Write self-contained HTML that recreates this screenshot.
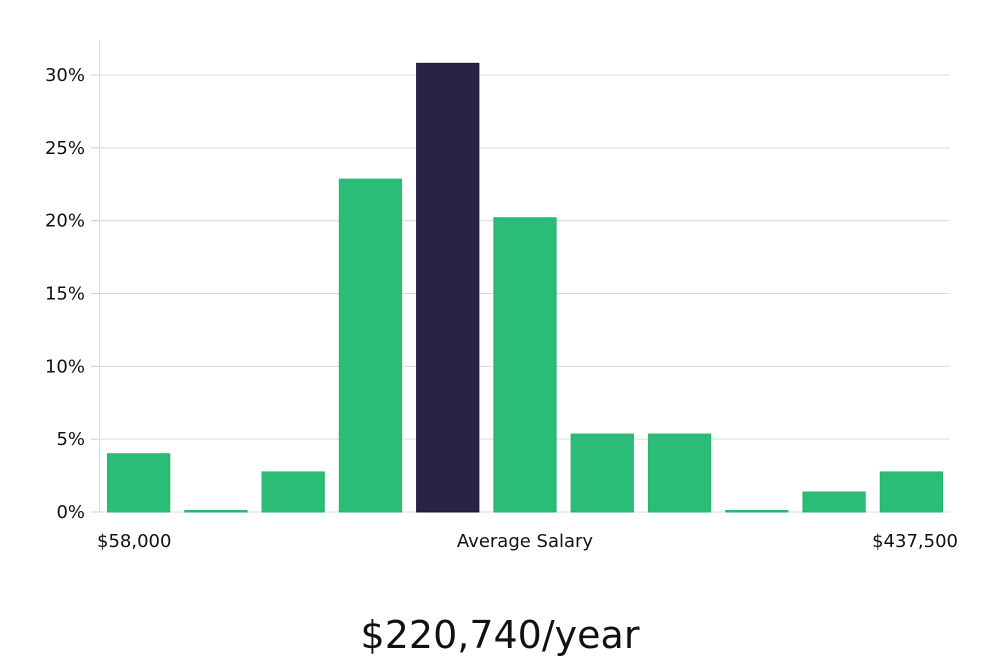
<!DOCTYPE html>
<html><head><meta charset="utf-8"><style>
html,body{margin:0;padding:0;background:#fff;width:1000px;height:660px;overflow:hidden}
text{font-family:"DejaVu Sans","Liberation Sans",sans-serif}
</style></head><body>
<svg id="chart" width="1000" height="660" xmlns="http://www.w3.org/2000/svg"></svg>
<script>
const categories=["b1","b2","b3","b4","b5","b6","b7","b8","b9","b10","b11"];
const values=[4.0,0.1,2.75,22.85,30.8,20.2,5.35,5.35,0.1,1.37,2.75];
const highlight=[false,false,false,false,true,false,false,false,false,false,false];
const yTicks=[0,5,10,15,20,25,30];
const yTickLabels=["0%","5%","10%","15%","20%","25%","30%"];
const xLabels=["$58,000","Average Salary","$437,500"];
const caption="$220,740/year";

const NS="http://www.w3.org/2000/svg";
const svg=document.getElementById('chart');
const L=100,R=950,B=512,T=40;
const y=v=>B-v*(437/30);
const band=(R-L)/categories.length;
const x=i=>L+i*band;
function mk(t,a){const e=document.createElementNS(NS,t);for(const k in a)e.setAttribute(k,a[k]);svg.appendChild(e);return e;}

yTicks.forEach((t,i)=>{
  const g=mk('line',{x1:L,x2:R,y1:y(t),y2:y(t),stroke:'#dcdcdc','stroke-width':1});
  
  
  const tk=mk('line',{x1:91,x2:L,y1:y(t),y2:y(t),stroke:'#cccccc','stroke-width':1});
  
  
  const lb=mk('text',{x:85,y:y(t)+6,'text-anchor':'end','font-size':18,fill:'#111'});
  lb.textContent=yTickLabels[i];
  
  
});
const ax=mk('line',{x1:L-0.5,x2:L-0.5,y1:T,y2:B,stroke:'#dcdcdc','stroke-width':1});



values.forEach((v,i)=>{
  const h=Math.max(1,B-y(v));
  const r=mk('rect',{x:x(i)+7.5,y:B-h,width:band-15,height:h,
    fill:highlight[i]?'#272445':'#2bbd77',stroke:highlight[i]?'#1a1838':'#25b56f','stroke-width':1});
  
  
});

const xl=[[97,'start'],[525,'middle'],[958,'end']];
xLabels.forEach((s,i)=>{
  const t=mk('text',{x:xl[i][0],y:547,'text-anchor':xl[i][1],'font-size':18,fill:'#111'});
  t.textContent=s;
  
  
});
const c=mk('text',{x:500,y:648,'text-anchor':'middle','font-size':38,fill:'#111','font-family':'"Liberation Sans Narrow","Liberation Sans",sans-serif'});
c.textContent=caption;


</script>
</body></html>
